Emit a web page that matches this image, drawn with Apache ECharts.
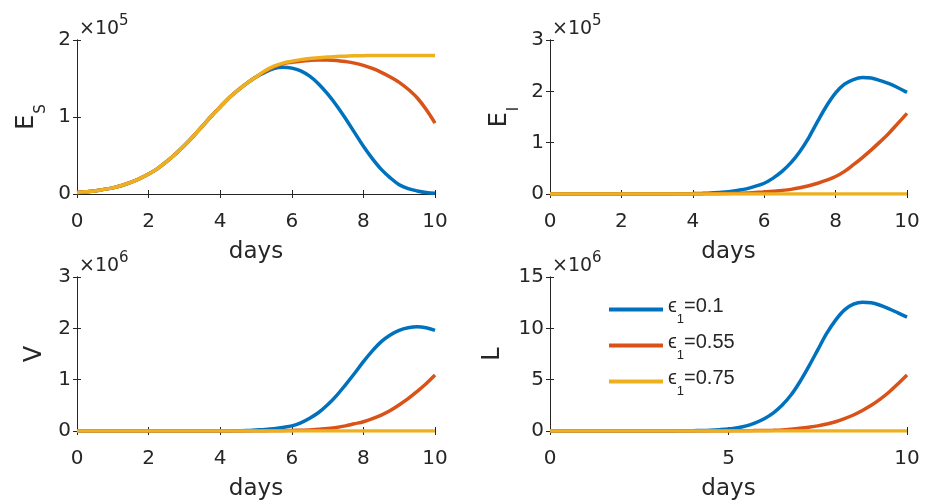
<!DOCTYPE html>
<html>
<head>
<meta charset="utf-8">
<script src="https://cdn.jsdelivr.net/npm/echarts@6/dist/echarts.min.js"></script>
<style>html,body{margin:0;padding:0;background:#fff;}#c{width:935px;height:503px;}</style>
</head>
<body>
<div id="c"></div>
<script>
// x values (days)
const days = [0,0.25,0.5,0.75,1,1.25,1.5,1.75,2,2.25,2.5,2.75,3,3.25,3.5,3.75,4,4.25,4.5,4.75,
              5,5.25,5.5,5.75,6,6.25,6.5,6.75,7,7.25,7.5,7.75,8,8.25,8.5,8.75,9,9.25,9.5,9.75,10];
const epsNames = ['0.1','0.55','0.75'];

// E_S  (units of 1e5)
const esEps01  = [0.02,0.03,0.04,0.06,0.08,0.11,0.15,0.20,0.26,0.33,0.42,0.52,0.63,0.75,0.88,1.01,1.13,1.25,1.35,1.44,
                  1.52,1.58,1.63,1.645,1.635,1.60,1.53,1.43,1.30,1.15,0.98,0.80,0.62,0.46,0.32,0.21,0.12,0.07,0.04,0.02,0.01];
const esEps055 = [0.02,0.03,0.04,0.06,0.08,0.11,0.15,0.20,0.26,0.33,0.42,0.52,0.63,0.75,0.88,1.01,1.13,1.25,1.35,1.44,
                  1.52,1.59,1.65,1.69,1.71,1.725,1.735,1.74,1.74,1.735,1.72,1.70,1.67,1.63,1.58,1.52,1.45,1.36,1.25,1.10,0.92];
const esEps075 = [0.02,0.03,0.04,0.06,0.08,0.11,0.15,0.20,0.26,0.33,0.42,0.52,0.63,0.75,0.88,1.01,1.13,1.25,1.35,1.44,
                  1.52,1.60,1.66,1.70,1.725,1.745,1.76,1.77,1.78,1.785,1.79,1.795,1.797,1.8,1.8,1.8,1.8,1.8,1.8,1.8,1.8];

// E_I  (units of 1e5)
const eiEps01  = [0,0,0,0,0,0,0,0,0,0,0,0,0,0,0.003,0.005,0.008,0.012,0.018,0.03,
                  0.045,0.07,0.10,0.15,0.21,0.31,0.44,0.61,0.83,1.10,1.42,1.72,1.97,2.14,2.23,2.27,2.26,2.21,2.15,2.07,1.98];
const eiEps055 = [0,0,0,0,0,0,0,0,0,0,0,0,0,0,0,0,0,0,0.005,0.007,
                  0.01,0.015,0.02,0.03,0.04,0.055,0.07,0.09,0.12,0.16,0.21,0.27,0.34,0.44,0.57,0.71,0.86,1.02,1.19,1.38,1.57];
const eiEps075 = [0,0,0,0,0,0,0,0,0,0,0,0,0,0,0,0,0,0,0,0,0,0,0,0,0,0,0,0,0,0,0,0,0,0,0,0,0,0,0,0,0];

// V  (units of 1e6)
const vEps01  = [0,0,0,0,0,0,0,0,0,0,0,0,0,0,0,0,0,0,0.005,0.01,
                 0.02,0.03,0.045,0.07,0.10,0.16,0.25,0.36,0.51,0.69,0.90,1.12,1.35,1.56,1.74,1.87,1.96,2.01,2.03,2.01,1.96];
const vEps055 = [0,0,0,0,0,0,0,0,0,0,0,0,0,0,0,0,0,0,0,0,
                 0,0,0.005,0.007,0.01,0.015,0.02,0.035,0.05,0.07,0.10,0.14,0.18,0.24,0.31,0.40,0.51,0.63,0.77,0.92,1.09];
const vEps075 = [0,0,0,0,0,0,0,0,0,0,0,0,0,0,0,0,0,0,0,0,0,0,0,0,0,0,0,0,0,0,0,0,0,0,0,0,0,0,0,0,0];

// L  (units of 1e6)
const lEps01  = [0,0,0,0,0,0,0,0,0,0,0,0,0,0,0.01,0.02,0.03,0.05,0.08,0.13,
                 0.2,0.32,0.5,0.8,1.2,1.75,2.5,3.5,4.8,6.3,7.9,9.5,10.8,11.8,12.35,12.55,12.5,12.25,11.9,11.5,11.1];
const lEps055 = [0,0,0,0,0,0,0,0,0,0,0,0,0,0,0,0,0,0,0,0,
                 0.01,0.02,0.03,0.04,0.05,0.07,0.10,0.17,0.26,0.37,0.5,0.68,0.9,1.2,1.56,2.0,2.5,3.1,3.8,4.6,5.45];
const lEps075 = [0,0,0,0,0,0,0,0,0,0,0,0,0,0,0,0,0,0,0,0,0,0,0,0,0,0,0,0,0,0,0,0,0,0,0,0,0,0,0,0,0];

const xTickStep = [2,2,2,5];
const yMaxes = [2,3,3,15];
const yTickStep = [1,1,1,5];
const yNames = ['{m|E}{s|S}','{m|E}{s|I}','{m|V}','{m|L}'];
const exponents = ['5','5','6','6'];
const xName = 'days';

const panelData = [
  [esEps01, esEps055, esEps075],
  [eiEps01, eiEps055, eiEps075],
  [vEps01, vEps055, vEps075],
  [lEps01, lEps055, lEps075]
];

const FONT = '"DejaVu Sans", sans-serif';
const LFONT = '"Liberation Sans", Arial, Helvetica, sans-serif';
const INK = '#262626';
const COLORS = ['#0072BD','#D95319','#EDB120'];

const grids = [
  {left:77, top:40, width:358, height:154},
  {left:550, top:40, width:357, height:154},
  {left:77, top:277, width:358, height:154},
  {left:550, top:277, width:357, height:154}
];
const nameGaps = [28,28,30,45];

const xAxes = [], yAxes = [], series = [], graphics = [];
grids.forEach((g, i) => {
  const common = {
    gridIndex: i, type: 'value', min: 0,
    axisLine: {show: true, lineStyle: {color: INK, width: 1}},
    axisTick: {show: true, inside: true, length: 4, lineStyle: {color: INK, width: 1}},
    splitLine: {show: false}
  };
  xAxes.push(Object.assign({}, common, {
    position: 'bottom', max: 10, interval: xTickStep[i],
    axisLabel: {color: INK, fontSize: 20, fontFamily: FONT, margin: 18},
    name: xName, nameLocation: 'middle', nameGap: 47,
    nameTextStyle: {color: INK, fontSize: 23, fontFamily: FONT}
  }));
  xAxes.push(Object.assign({}, common, {
    position: 'top', max: 10, interval: xTickStep[i], axisLabel: {show: false}
  }));
  yAxes.push(Object.assign({}, common, {
    position: 'left', max: yMaxes[i], interval: yTickStep[i],
    axisLabel: {color: INK, fontSize: 20, fontFamily: FONT, margin: 6},
    name: yNames[i], nameLocation: 'middle', nameGap: nameGaps[i],
    nameTextStyle: {
      color: INK, fontSize: 24, fontFamily: FONT,
      rich: {
        m: {fontSize: 24, fontFamily: FONT, color: INK, verticalAlign: 'top'},
        s: {fontSize: 15, fontFamily: FONT, color: INK, verticalAlign: 'top', padding: [19,0,0,1]}
      }
    }
  }));
  yAxes.push(Object.assign({}, common, {
    position: 'right', max: yMaxes[i], interval: yTickStep[i], axisLabel: {show: false}
  }));
  panelData[i].forEach((vals, k) => {
    series.push({
      type: 'line', name: epsNames[k], xAxisIndex: 2*i, yAxisIndex: 2*i,
      data: days.map((d, j) => [d, vals[j]]),
      showSymbol: false, symbol: 'none', smooth: 0.35,
      lineStyle: {color: COLORS[k], width: 3.5},
      itemStyle: {color: COLORS[k]},
      z: 3 + k
    });
  });
  graphics.push({
    type: 'text', x: g.left + 2, y: g.top - 26, silent: true,
    style: {
      text: '{a|×10}{b|' + exponents[i] + '}',
      align: 'left', verticalAlign: 'top',
      rich: {
        a: {fontSize: 19, fontFamily: FONT, fill: INK, verticalAlign: 'top', padding: [6,0,0,0]},
        b: {fontSize: 15, fontFamily: FONT, fill: INK, verticalAlign: 'top'}
      }
    }
  });
});

const chart = echarts.init(document.getElementById('c'), null, {renderer: 'canvas'});
chart.setOption({
  animation: false,
  backgroundColor: '#fff',
  grid: grids,
  xAxis: xAxes,
  yAxis: yAxes,
  series: series,
  graphic: graphics,
  legend: {
    data: epsNames, orient: 'vertical', left: 604, top: 291,
    icon: 'rect', itemWidth: 54, itemHeight: 4, itemGap: 6, itemTextGap: 5,
    formatter: n => '{e|ϵ}{s|1}{n|=' + n + '}',
    textStyle: {
      color: INK, fontSize: 20, fontFamily: LFONT,
      rich: {
        e: {fontSize: 20, fontFamily: LFONT, color: INK, verticalAlign: 'top', padding: [3,0,0,0]},
        s: {fontSize: 13, fontFamily: LFONT, color: INK, verticalAlign: 'top', padding: [20,0,0,0]},
        n: {fontSize: 20, fontFamily: LFONT, color: INK, verticalAlign: 'top', padding: [3,0,0,0]}
      }
    }
  }
});
</script>
</body>
</html>
